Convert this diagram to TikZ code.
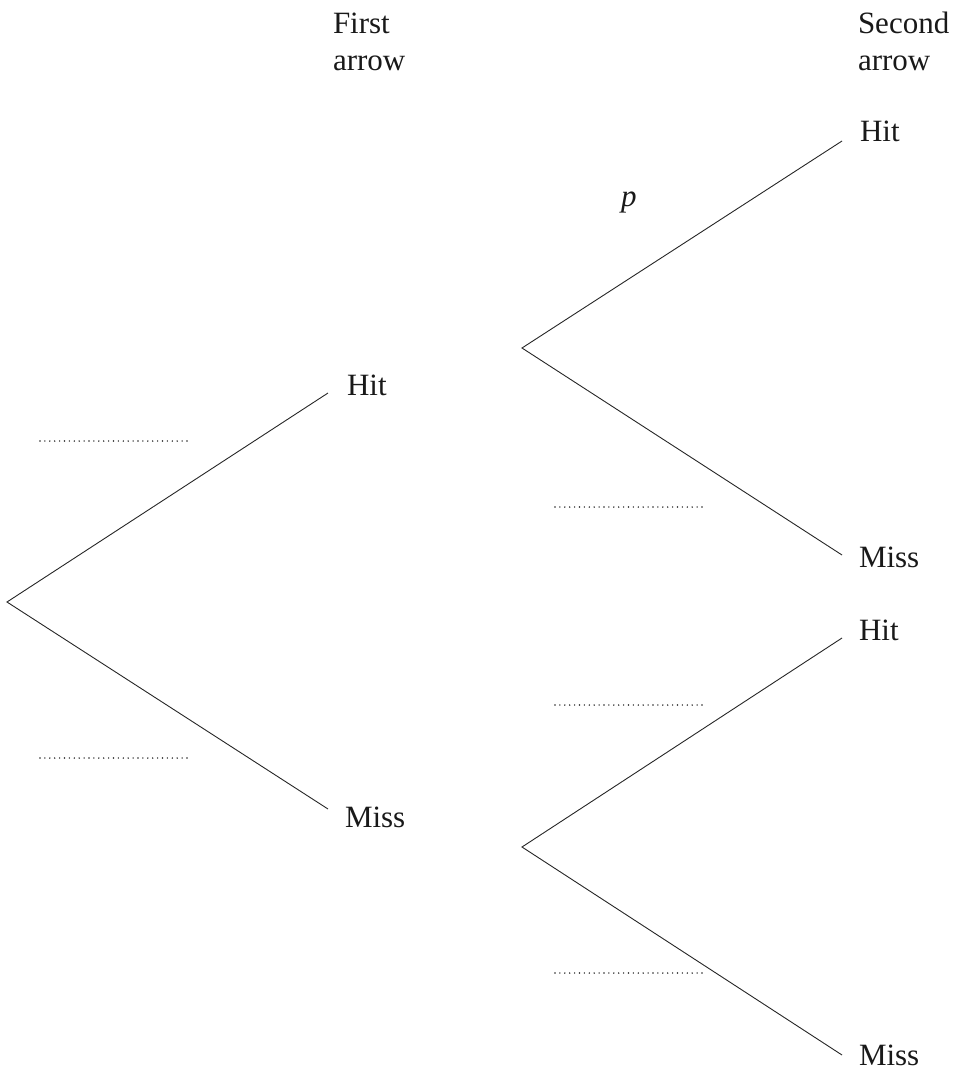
\documentclass[tikz,border=0pt]{standalone}
\usepackage{fontspec}
\setmainfont{Liberation Serif}
\begin{document}
\begin{tikzpicture}[x=1pt,y=-1pt,
  branch/.style={line width=0.9pt,draw=black!85},
  blank/.style={line width=1.6pt,draw=black!85,line cap=round,dash pattern=on 0pt off 4.9pt},
  lbl/.style={anchor=base west,inner sep=0pt,outer sep=0pt,font=\fontsize{31}{37}\selectfont,text=black!90}]
\useasboundingbox (0,0) rectangle (954,1072);
% headers
\node[lbl] (h1a) at (333,33) {First};
\node[lbl] (h1b) at (333,70) {arrow};
\node[lbl] (h2a) at (858,33) {Second};
\node[lbl] (h2b) at (858,70) {arrow};
% tree points
\coordinate (R) at (7,602);
\coordinate (A1) at (328,393);
\coordinate (A2) at (328,809);
\coordinate (B) at (522,348);
\coordinate (B1) at (842,141);
\coordinate (B2) at (842,555);
\coordinate (C) at (522,847);
\coordinate (C1) at (842,638);
\coordinate (C2) at (842,1055);
\draw[branch] (A1) -- (R) -- (A2);
\draw[branch] (B1) -- (B) -- (B2);
\draw[branch] (C1) -- (C) -- (C2);
% labels
\node[lbl] (lA1) at (347,395) {Hit};
\node[lbl] (lA2) at (345,827) {Miss};
\node[lbl] (lB1) at (860,141) {Hit};
\node[lbl] (lB2) at (859,567) {Miss};
\node[lbl] (lC1) at (859,640) {Hit};
\node[lbl] (lC2) at (859,1065) {Miss};
\node[lbl] (p) at (621,206) {\textit{p}};
% blanks
\coordinate (d1a) at (40,441); \coordinate (d1b) at (188,441);
\coordinate (d2a) at (40,758); \coordinate (d2b) at (188,758);
\coordinate (d3a) at (555,507); \coordinate (d3b) at (703,507);
\coordinate (d4a) at (555,705); \coordinate (d4b) at (703,705);
\coordinate (d5a) at (555,973); \coordinate (d5b) at (703,973);
\draw[blank] (d1a) -- (d1b);
\draw[blank] (d2a) -- (d2b);
\draw[blank] (d3a) -- (d3b);
\draw[blank] (d4a) -- (d4b);
\draw[blank] (d5a) -- (d5b);
\end{tikzpicture}
\end{document}
